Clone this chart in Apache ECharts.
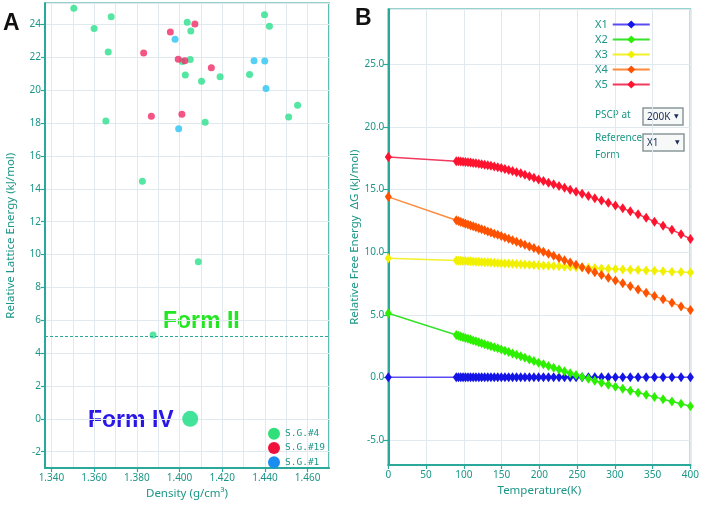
<!DOCTYPE html>
<html><head><meta charset="utf-8">
<script src="https://cdn.jsdelivr.net/npm/echarts@6/dist/echarts.min.js"></script>
<style>html,body{margin:0;padding:0;background:#fff}#c{width:702px;height:505px}</style>
</head><body><div id="c"></div>
<script>
// ---------- Panel A data ----------
const sg4Density = [1.3505,1.3600,1.3680,1.3666,1.3655,1.3826,1.4036,1.4053,1.4013,1.4050,1.4027,1.4103,1.4190,1.4120,1.4328,1.4398,1.4421,1.4511,1.4553,1.4088,1.3876];
const sg4Energy  = [25.0,23.76,24.48,22.34,18.14,14.46,24.14,23.62,21.76,21.88,20.93,20.55,20.83,18.06,20.97,24.61,23.90,18.38,19.09,9.56,5.11];
const sg19Density = [1.3832,1.3868,1.3957,1.3994,1.4025,1.4072,1.4011,1.4149];
const sg19Energy  = [22.28,18.42,23.56,21.90,21.80,24.04,18.55,21.37];
const sg1Density = [1.3979,1.3996,1.4349,1.4399,1.4405];
const sg1Energy  = [23.11,17.66,21.80,21.78,20.12];
const formIVDensity = [1.405];
const formIVEnergy = [0];
const formIIThreshold = 5;
const legendA = ['S.G.#4','S.G.#19','S.G.#1'];

// ---------- Panel B data ----------
const temps = [0,90.0,92.9,95.9,99.0,102.2,105.5,108.9,112.4,116.0,119.8,123.6,127.6,131.7,135.9,140.3,144.9,149.6,154.4,159.4,164.5,169.8,175.3,180.9,186.8,192.8,199.0,205.4,212.1,218.9,226.0,233.3,240.8,248.6,256.6,264.9,273.4,282.2,291.3,300.7,310.4,320.4,330.7,341.4,352.4,363.8,375.5,387.6,400.0];
const x1 = [0,0,0,0,0,0,0,0,0,0,0,0,0,0,0,0,0,0,0,0,0,0,0,0,0,0,0,0,0,0,0,0,0,0,0,0,0,0,0,0,0,0,0,0,0,0,0,0,0];
const x2 = [5.12,3.38,3.33,3.27,3.21,3.15,3.09,3.02,2.95,2.88,2.81,2.73,2.65,2.57,2.49,2.41,2.32,2.23,2.13,2.02,1.91,1.80,1.68,1.56,1.43,1.31,1.17,1.04,0.91,0.77,0.63,0.48,0.33,0.18,0.03,-0.12,-0.27,-0.43,-0.59,-0.75,-0.90,-1.06,-1.22,-1.39,-1.56,-1.74,-1.92,-2.11,-2.30];
const x3 = [9.52,9.33,9.32,9.31,9.30,9.29,9.28,9.27,9.26,9.24,9.23,9.22,9.20,9.19,9.17,9.16,9.14,9.12,9.10,9.09,9.07,9.05,9.03,9.01,8.99,8.97,8.95,8.93,8.91,8.89,8.87,8.85,8.83,8.80,8.78,8.75,8.73,8.70,8.67,8.65,8.62,8.60,8.57,8.54,8.51,8.48,8.44,8.41,8.37];
const x4 = [14.42,12.55,12.49,12.42,12.35,12.28,12.21,12.14,12.07,11.99,11.91,11.83,11.75,11.66,11.58,11.48,11.39,11.29,11.18,11.07,10.96,10.84,10.72,10.60,10.46,10.33,10.18,10.03,9.87,9.71,9.54,9.36,9.18,8.99,8.80,8.60,8.40,8.18,7.96,7.74,7.51,7.27,7.02,6.76,6.50,6.23,5.96,5.67,5.38];
const x5 = [17.60,17.27,17.26,17.24,17.22,17.20,17.18,17.16,17.13,17.10,17.06,17.03,16.99,16.94,16.90,16.85,16.79,16.73,16.65,16.57,16.48,16.39,16.30,16.19,16.07,15.94,15.80,15.68,15.55,15.42,15.28,15.14,14.99,14.83,14.66,14.49,14.31,14.13,13.94,13.73,13.50,13.27,13.02,12.75,12.44,12.12,11.79,11.44,11.05];
const seriesNamesB = ['X1','X2','X3','X4','X5'];

// ---------- styles ----------
const teal = '#2aa89a';
const tealText = '#1c9686';
const gridCol = '#e0e9ee';
const lab = {color: tealText, fontSize: 10, fontFamily: 'Noto Sans'};
const nameStyle = {color: tealText, fontSize: 11.5, fontFamily: 'Noto Sans'};

const zip = (a, b) => a.map((v, i) => [v, b[i]]);
const chart = echarts.init(document.getElementById('c'), null, {renderer: 'canvas'});

const bLine = ['#5a4cf2', '#36e22a', '#f2f02a', '#ff8a3a', '#f23a5e'];
const bMark = ['#1414e6', '#2cf000', '#f0f000', '#ff5200', '#ff1430'];
const bData = [x1, x2, x3, x4, x5];

function txt(x, y, text, size, color, bold, family) {
  return {type: 'text', x: x, y: y, style: {text: text, fontSize: size, fontWeight: bold ? 'bold' : 'normal',
    fontFamily: family || 'Noto Sans', fill: color, verticalAlign: 'middle', stroke: null, lineWidth: 0,
    textBorderWidth: 0, textShadowBlur: 0}};
}

const option = {
  animation: false,
  backgroundColor: '#ffffff',
  grid: [
    {left: 45, top: 3.3, right: 373, bottom: 34, show: true, borderColor: teal, borderWidth: 1.5},
    {left: 388.3, top: 9.3, right: 11, bottom: 40, show: true, borderColor: teal, borderWidth: 1.5}
  ],
  xAxis: [
    {type: 'value', gridIndex: 0, min: 1.337, max: 1.470, splitNumber: 7,
     splitLine: {show: false},
     axisLine: {show: true, onZero: false, lineStyle: {color: teal, width: 2}},
     axisTick: {show: true, length: 4, lineStyle: {color: teal, width: 1.2}},
     axisLabel: Object.assign({formatter: v => v.toFixed(3), showMinLabel: false, showMaxLabel: false, margin: 5}, lab),
     name: 'Density (g/cm³)', nameLocation: 'middle', nameGap: 19, nameTextStyle: nameStyle},
    {type: 'value', gridIndex: 0, min: 1.337, max: 1.470, splitNumber: 13, position: 'top',
     axisLine: {show: false}, axisTick: {show: false}, axisLabel: {show: false},
     splitLine: {show: true, lineStyle: {color: gridCol, width: 1}}},
    {type: 'value', gridIndex: 1, min: 0, max: 400, interval: 50,
     splitLine: {show: true, lineStyle: {color: gridCol, width: 1}},
     axisLine: {show: true, onZero: false, lineStyle: {color: teal, width: 2}},
     axisTick: {show: true, length: 4, lineStyle: {color: teal, width: 1.2}},
     axisLabel: Object.assign({margin: 5}, lab),
     name: 'Temperature(K)', nameLocation: 'middle', nameGap: 18, nameTextStyle: nameStyle}
  ],
  yAxis: [
    {type: 'value', gridIndex: 0, min: -3, max: 25.3, splitNumber: 14,
     splitLine: {show: true, lineStyle: {color: gridCol, width: 1}},
     axisLine: {show: true, onZero: false, lineStyle: {color: teal, width: 2}},
     axisTick: {show: true, length: 4, lineStyle: {color: teal, width: 1.2}},
     axisLabel: Object.assign({showMinLabel: false, showMaxLabel: false, margin: 4}, lab),
     name: 'Relative Lattice Energy (kJ/mol)', nameLocation: 'middle', nameGap: 28, nameTextStyle: nameStyle},
    {type: 'value', gridIndex: 1, min: -7, max: 29.4, splitNumber: 7,
     splitLine: {show: true, lineStyle: {color: gridCol, width: 1}},
     axisLine: {show: true, onZero: false, lineStyle: {color: teal, width: 2}},
     axisTick: {show: true, length: 5, lineStyle: {color: teal, width: 1.2}},
     axisLabel: Object.assign({formatter: v => v.toFixed(1), showMinLabel: false, showMaxLabel: false, margin: 4}, lab),
     name: 'Relative Free Energy  \u0394G (kJ/mol)', nameLocation: 'middle', nameGap: 28, nameTextStyle: nameStyle}
  ],
  legend: [
    {orient: 'vertical', left: 268, top: 427.7, padding: 0, itemWidth: 12, itemHeight: 12, itemGap: 2.3, itemTextGap: 2,
     icon: 'circle', data: [
       {name: legendA[0], itemStyle: {color: '#2fe07a', opacity: 1}},
       {name: legendA[1], itemStyle: {color: '#f0103c', opacity: 1}},
       {name: legendA[2], itemStyle: {color: '#1a8ef0', opacity: 1}}],
     textStyle: {color: tealText, fontSize: 9.5, fontFamily: 'DejaVu Sans Mono'}, selectedMode: false},
    {orient: 'vertical', left: 595, top: 19, padding: 0, align: 'right', itemWidth: 37, itemHeight: 10, itemGap: 4,
     itemTextGap: 8, data: seriesNamesB,
     textStyle: {color: tealText, fontSize: 11, fontFamily: 'Noto Sans'}, selectedMode: false}
  ],
  series: [
    {name: legendA[0], type: 'scatter', xAxisIndex: 0, yAxisIndex: 0, data: zip(sg4Density, sg4Energy),
     symbolSize: 7, itemStyle: {color: '#2fe08f', opacity: 0.82},
     markLine: {silent: true, symbol: ['none', 'none'], label: {show: false},
       lineStyle: {type: [3, 2], color: teal, width: 1.2}, data: [{yAxis: formIIThreshold}]}},
    {name: legendA[1], type: 'scatter', xAxisIndex: 0, yAxisIndex: 0, data: zip(sg19Density, sg19Energy),
     symbolSize: 7, itemStyle: {color: '#f0306a', opacity: 0.82}},
    {name: legendA[2], type: 'scatter', xAxisIndex: 0, yAxisIndex: 0, data: zip(sg1Density, sg1Energy),
     symbolSize: 7, itemStyle: {color: '#2ec6f2', opacity: 0.82}},
    {name: 'Form IV', type: 'scatter', xAxisIndex: 0, yAxisIndex: 0, data: zip(formIVDensity, formIVEnergy),
     symbolSize: 16, itemStyle: {color: '#2fe08f', opacity: 0.9}}
  ].concat(seriesNamesB.map((n, i) => ({
    name: n, type: 'line', xAxisIndex: 2, yAxisIndex: 1, data: zip(temps, bData[i]),
    symbol: 'diamond', symbolSize: [7, 10], showAllSymbol: true,
    lineStyle: {color: bLine[i], width: 1.5}, itemStyle: {color: bMark[i]}
  }))),
  graphic: [
    txt(3, 24, 'A', 23, '#111', true, 'Liberation Sans'),
    txt(355, 19, 'B', 23, '#111', true, 'Liberation Sans'),
    txt(163, 322, 'Form II', 23, '#22e622', true, 'Liberation Sans'),
    txt(88, 421, 'Form IV', 23, '#2b16e8', true, 'Liberation Sans'),
    txt(595, 115, 'PSCP at', 10, tealText),
    {type: 'rect', shape: {x: 643, y: 108, width: 40, height: 17}, style: {fill: '#f7f9f9', stroke: '#8a9898', lineWidth: 1.5}},
    txt(647, 117, '200K', 10, '#1a2a55'),
    txt(674, 116, '\u25BC', 6, '#1a2a55', false, 'DejaVu Sans'),
    txt(595, 138, 'Reference', 10, tealText),
    txt(595, 155, 'Form', 10, tealText),
    {type: 'rect', shape: {x: 643, y: 134, width: 41, height: 17}, style: {fill: '#f7f9f9', stroke: '#8a9898', lineWidth: 1.5}},
    txt(647, 143, 'X1', 10, '#1a2a55'),
    txt(675, 142, '\u25BC', 6, '#1a2a55', false, 'DejaVu Sans')
  ]
};
chart.setOption(option);
</script>
</body></html>
